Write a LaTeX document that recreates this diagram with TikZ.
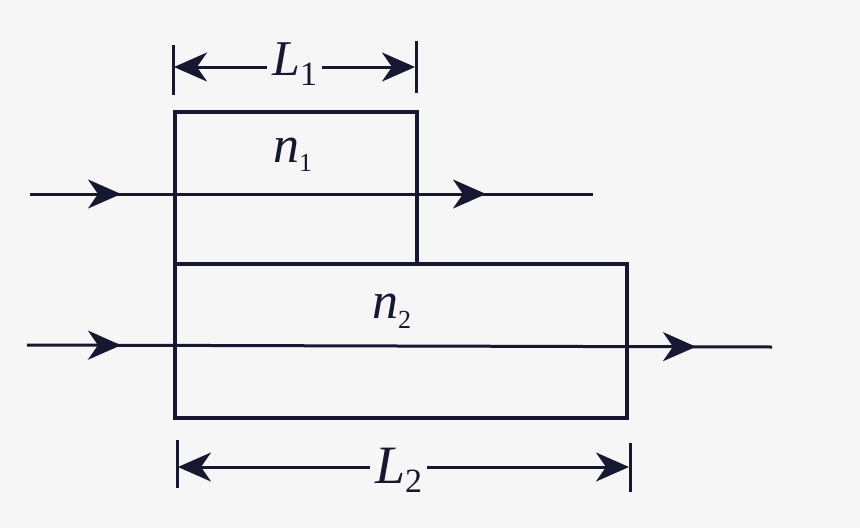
\documentclass[tikz,border=0pt]{standalone}
\usepackage{fontspec}
\setmainfont{Liberation Serif}
\usetikzlibrary{arrows.meta,decorations.markings}
\definecolor{ink}{HTML}{151830}
\definecolor{paper}{HTML}{F6F6F6}
\begin{document}
\begin{tikzpicture}[x=1pt,y=-1pt,
  ln/.style={draw=ink,line width=3.4pt},
  thin/.style={draw=ink,line width=3pt},
  >={Stealth[length=33pt,width=29pt,inset=10pt]},
  lbl/.style={text=ink,inner sep=0pt,anchor=base west},
  ray1/.style={postaction={decorate},decoration={markings,
      mark=at position 91pt with {\arrow{>}},
      mark=at position 456pt with {\arrow{>}}}},
  ray2/.style={postaction={decorate},decoration={markings,
      mark=at position 94pt with {\arrow{>}},
      mark=at position 669pt with {\arrow{>}}}}]
\fill[paper] (0,0) rectangle (860,528);
\useasboundingbox (0,0) rectangle (860,528);
% boxes
\coordinate (a1) at (175,112);
\coordinate (a2) at (417,264);
\coordinate (b1) at (175,264);
\coordinate (b2) at (627,418);
\draw[ln] (a1) rectangle (a2);
\draw[ln] (b1) rectangle (b2);
% rays
\coordinate (r1s) at (30,194);
\coordinate (r1e) at (593,194);
\coordinate (r2s) at (27,345);
\coordinate (r2e) at (772,347);
\draw[thin,ray1] (r1s) -- (r1e);
\draw[thin,ray2] (r2s) -- (r2e);
% refractive index labels
\node[lbl] (n1) at (273,162) {\fontsize{52}{52}\selectfont\textit{n}\raisebox{-9pt}{\fontsize{26}{26}\selectfont 1}};
\node[lbl] (n2) at (372,318) {\fontsize{52}{52}\selectfont\textit{n}\raisebox{-10pt}{\fontsize{26}{26}\selectfont 2}};
% L1 dimension
\coordinate (t1a) at (173,45);
\coordinate (t1b) at (173,95);
\coordinate (t2a) at (416,41);
\coordinate (t2b) at (416,93);
\coordinate (d1l) at (174,67);
\coordinate (d1r) at (415,67);
\draw[thin] (t1a) -- (t1b);
\draw[thin] (t2a) -- (t2b);
\node[lbl,inner xsep=5pt] (L1) at (267,75) {\fontsize{50}{50}\selectfont\textit{L}\raisebox{-10pt}{\fontsize{34}{34}\selectfont 1}};
\draw[thin,->] (L1.west |- d1l) -- (d1l);
\draw[thin,->] (L1.east |- d1r) -- (d1r);
% L2 dimension
\coordinate (t3a) at (177,440);
\coordinate (t3b) at (177,488);
\coordinate (t4a) at (630,443);
\coordinate (t4b) at (630,492);
\coordinate (d2l) at (178,467);
\coordinate (d2r) at (629,467);
\draw[thin] (t3a) -- (t3b);
\draw[thin] (t4a) -- (t4b);
\node[lbl,inner xsep=5pt] (L2) at (370,483) {\fontsize{54}{54}\selectfont\textit{L}\raisebox{-9pt}{\fontsize{34}{34}\selectfont 2}};
\draw[thin,->] (L2.west |- d2l) -- (d2l);
\draw[thin,->] (L2.east |- d2r) -- (d2r);
\end{tikzpicture}
\end{document}
